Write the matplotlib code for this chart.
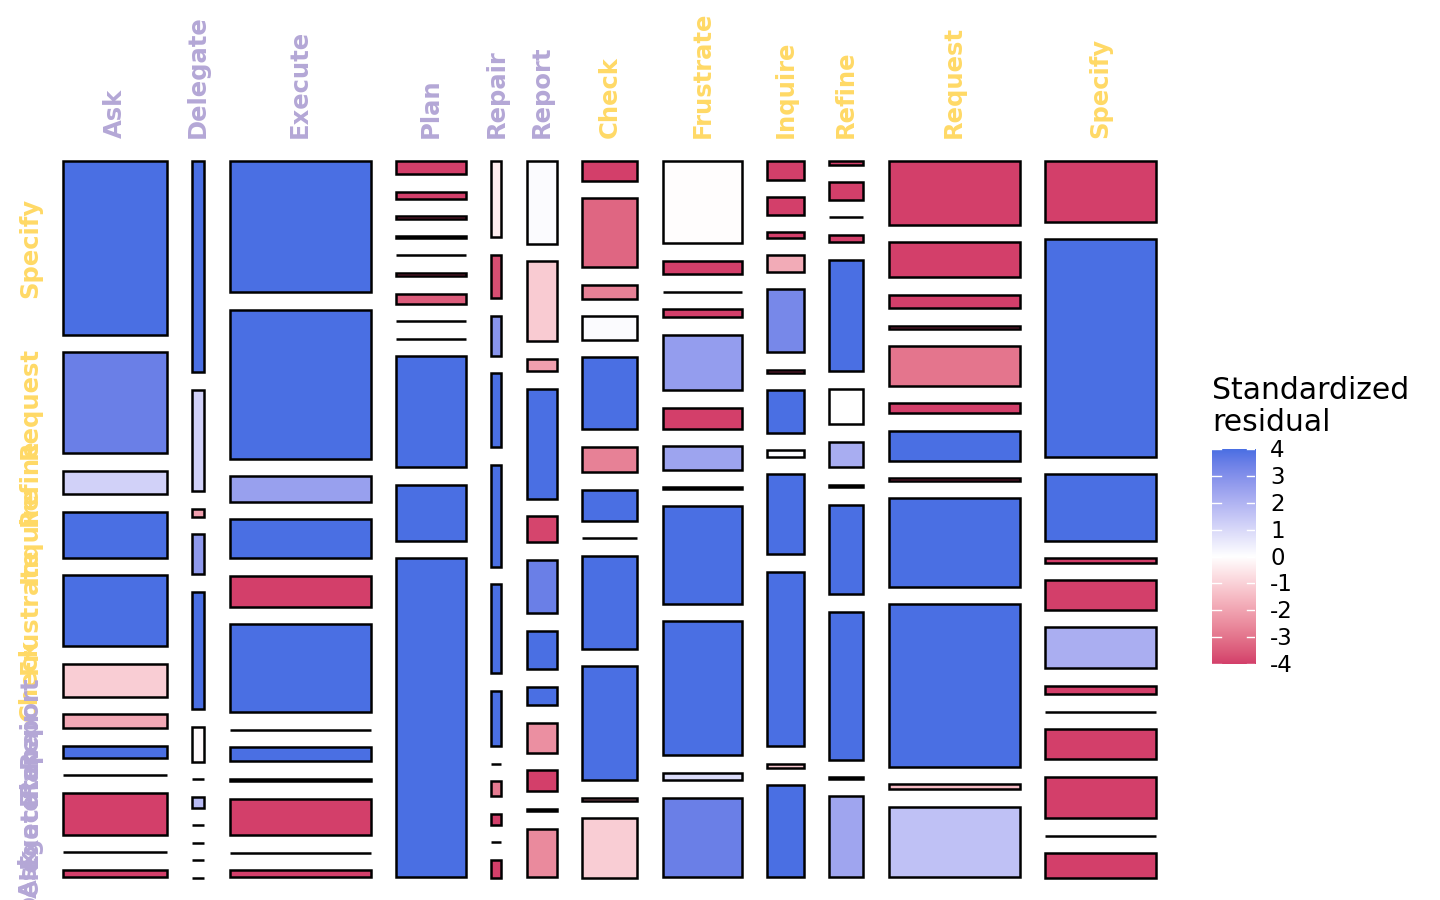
import numpy as np
import matplotlib
matplotlib.use("Agg")
import matplotlib.pyplot as plt
from matplotlib.patches import Rectangle

# categories (x columns left to right, rows listed top to bottom)
x_levels = ["Ask", "Delegate", "Execute", "Plan", "Repair", "Report",
            "Check", "Frustrate", "Inquire", "Refine", "Request", "Specify"]
y_levels_top_down = ["Specify", "Request", "Refine", "Inquire", "Frustrate", "Check",
                     "Report", "Repair", "Plan", "Execute", "Delegate", "Ask"]
group_a = ["Ask", "Delegate", "Execute", "Plan", "Repair", "Report"]

# column marginal shares
col_width = [104, 12, 141, 69.7, 10, 29.7, 55.3, 78.7, 36.4, 34, 131, 111]

# conditional shares within each column, top to bottom (Specify ... Ask)
shares = [
    [173, 101, 23.5, 46, 71, 33, 14, 12, 0, 42, 0, 7.5],                  # Ask
    [212.6, 102.6, 8, 40.3, 119, 35, 0, 11, 0, 0, 0, 0],                   # Delegate
    [130.4, 148.2, 25.2, 38.6, 31.1, 87.5, 0, 14, 2.5, 36.5, 0, 7],        # Execute
    [13.1, 6.6, 2.5, 1.8, 0, 3.2, 10.2, 0, 0, 111, 56.4, 319.5],           # Plan
    [76, 43, 40, 74, 102, 88.7, 55.5, 0, 15, 11.4, 0, 17.5],               # Repair
    [82.1, 79.4, 12.2, 109.6, 26, 52.8, 38.5, 18.5, 29.5, 21.2, 2.3, 48.5],  # Report
    [19.3, 69.3, 13.6, 23.5, 72, 25.5, 31, 0, 93, 114, 3, 59.5],           # Check
    [81.2, 13.1, 0, 8, 55.2, 20.7, 23, 1.8, 96.6, 132.7, 7.5, 78.9],       # Frustrate
    [18.3, 17.4, 5.6, 16.5, 62.8, 2.7, 42.6, 6.3, 79.7, 173.8, 4.2, 91.7],  # Inquire
    [3.2, 17.3, 0, 7.9, 110.3, 35.6, 25.3, 2.4, 89, 146.7, 1.8, 80.5],     # Refine
    [63.2, 34.8, 13.2, 3.2, 39.3, 10, 29.7, 2.7, 87.9, 161.7, 5, 70.5],    # Request
    [60.4, 217.8, 67, 4.6, 29.2, 41, 8.9, 0, 29.7, 42, 0, 24.1],           # Specify
]

# standardized residuals, same layout
resid = [
    [4, 3.5, 1.2, 4, 4, -1.1, -1.9, 4, -4, -4, -4, -4],
    [4, 1.2, -2.1, 2.75, 4, -0.1, -4, 1.8, -4, -4, -4, -4],
    [4, 4, 2.55, 4, -4, 4, -4, 4, -4, -4, -4, -4],
    [-4, -4, -4, -4, -4, -4, -3.5, -4, -4, 4, 4, 4],
    [-0.4, -3.75, 2.9, 4, 4, 4, 4, -4, -2.9, -4, -4, -4],
    [0.1, -1.15, -2.1, 4, -3.9, 3.5, 4, 4, -2.45, -4, -2.0, -2.55],
    [-4, -3.3, -2.75, 0.1, 4, -2.75, 4, -4, 4, 4, -2.5, -1.1],
    [-0.05, -4, -4, -4, 2.65, -4, 2.45, -3, 4, 4, 0.9, 3.5],
    [-4, -4, -4, -1.85, 3.25, -4, 4, 0.1, 4, 4, -1.2, 4],
    [-4, -4, -4, -4, 4, 0, 2.2, -1.5, 4, 4, -3.5, 2.4],
    [-4, -4, -4, -4, -3.0, -4, 4, -4, 4, 4, -1.5, 1.65],
    [-4, 4, 4, -4, -4, 2.15, -4, -4, -4, -4, -4, -4],
]

legend_ticks = [4, 3, 2, 1, 0, -1, -2, -3, -4]

LOW, MID, HIGH = "#d33f6a", "#ffffff", "#4a6fe3"
LAVENDER, YELLOW = "#b4a7d6", "#ffd966"


# Lab interpolation like ggplot's gradient2
M = np.array([[0.4124, 0.3576, 0.1805],
              [0.2126, 0.7152, 0.0722],
              [0.0193, 0.1192, 0.9505]])
WHITE = M @ np.ones(3)


def hex_to_rgb(h):
    return np.array([int(h[i:i + 2], 16) / 255 for i in (1, 3, 5)])


def rgb_to_lab(c):
    lin = np.where(c <= 0.04045, c / 12.92, ((c + 0.055) / 1.055) ** 2.4)
    xyz = M @ lin / WHITE
    f = np.where(xyz > 0.008856, np.cbrt(xyz), 7.787 * xyz + 16 / 116)
    return np.array([116 * f[1] - 16, 500 * (f[0] - f[1]), 200 * (f[1] - f[2])])


def lab_to_rgb(lab):
    fy_ = (lab[0] + 16) / 116
    f = np.array([fy_ + lab[1] / 500, fy_, fy_ - lab[2] / 200])
    xyz = np.where(f > 0.2069, f ** 3, (f - 16 / 116) / 7.787) * WHITE
    lin = np.linalg.solve(M, xyz)
    lin = np.clip(lin, 0, 1)
    c = np.where(lin <= 0.0031308, 12.92 * lin, 1.055 * lin ** (1 / 2.4) - 0.055)
    return np.clip(c, 0, 1)


lab_low, lab_mid, lab_high = (rgb_to_lab(hex_to_rgb(h)) for h in (LOW, MID, HIGH))


def resid_color(v):
    v = float(np.clip(v, -4, 4))
    if v < 0:
        t = (v + 4) / 4
        return lab_to_rgb(lab_low + (lab_mid - lab_low) * t)
    t = v / 4
    return lab_to_rgb(lab_mid + (lab_high - lab_mid) * t)


W, H = 1440, 900
fig = plt.figure(figsize=(W / 100, H / 100), dpi=100)


def fx(px):
    return px / W


def fy(py):
    return 1 - py / H


# plot area (centres of the outer tile borders)
left_px, right_px, top_px, bot_px = 62.7, 1156.0, 161.4, 877.5
ax = fig.add_axes([fx(left_px), fy(bot_px), (right_px - left_px) / W, (bot_px - top_px) / H])
ax.set_xlim(0, 1)
ax.set_ylim(0, 1)
ax.axis("off")

n = len(x_levels)
gx = 25.5 / (right_px - left_px)
gy = 17.5 / (bot_px - top_px)
w = np.array(col_width, dtype=float)
w = w / w.sum() * (1 - gx * (n - 1))
x0 = np.concatenate([[0], np.cumsum(w + gx)[:-1]])

first_centres = []
for j, name in enumerate(x_levels):
    h = np.array(shares[j], dtype=float)
    h = h / h.sum() * (1 - gy * (len(h) - 1))
    top = 1.0
    for i in range(len(h)):
        bottom = top - h[i]
        ax.add_patch(Rectangle((x0[j], bottom), w[j], h[i],
                               facecolor=resid_color(resid[j][i]), edgecolor="black",
                               linewidth=1.8, clip_on=False))
        if j == 0:
            first_centres.append((top + bottom) / 2)
        top = bottom - gy

# column labels on top
lab_y = 1 + (top_px - 138) / (bot_px - top_px)
for j, name in enumerate(x_levels):
    ax.text(x0[j] + w[j] / 2, lab_y, name, rotation=90, ha="center", va="bottom",
            fontsize=17.5, fontweight="bold",
            color=LAVENDER if name in group_a else YELLOW, clip_on=False)

# row labels on the left, at the first column's tiles
lab_x = (30 - left_px) / (right_px - left_px)
for name, yc in zip(y_levels_top_down, first_centres):
    ax.text(lab_x, yc, name, rotation=90, ha="center", va="center",
            fontsize=17.5, fontweight="bold",
            color=LAVENDER if name in group_a else YELLOW, clip_on=False)

# legend
fig.text(fx(1212), fy(399), "Standardized", fontsize=21.5, ha="left", va="baseline")
fig.text(fx(1212), fy(431), "residual", fontsize=21.5, ha="left", va="baseline")

bar_top, bar_bot, bar_l, bar_r = 449.3, 664.0, 1212.0, 1255.3
cax = fig.add_axes([fx(bar_l), fy(bar_bot), (bar_r - bar_l) / W, (bar_bot - bar_top) / H])
vals = np.linspace(-4, 4, 300)
grad = np.array([resid_color(v) for v in vals])[:, None, :]
cax.imshow(grad, origin="lower", extent=[0, 1, -4, 4], aspect="auto", interpolation="bilinear")
for t in legend_ticks:
    cax.plot([0, 0.2], [t, t], color="white", lw=1)
    cax.plot([0.8, 1], [t, t], color="white", lw=1)
cax.set_xlim(0, 1)
cax.set_ylim(-4, 4)
cax.axis("off")
for t in legend_ticks:
    py = bar_bot - (t + 4) / 8 * (bar_bot - bar_top)
    fig.text(fx(1270), fy(py + 1.5), str(t), fontsize=16.5, ha="left", va="center")

fig.savefig("out.png", dpi=100, facecolor="white")
